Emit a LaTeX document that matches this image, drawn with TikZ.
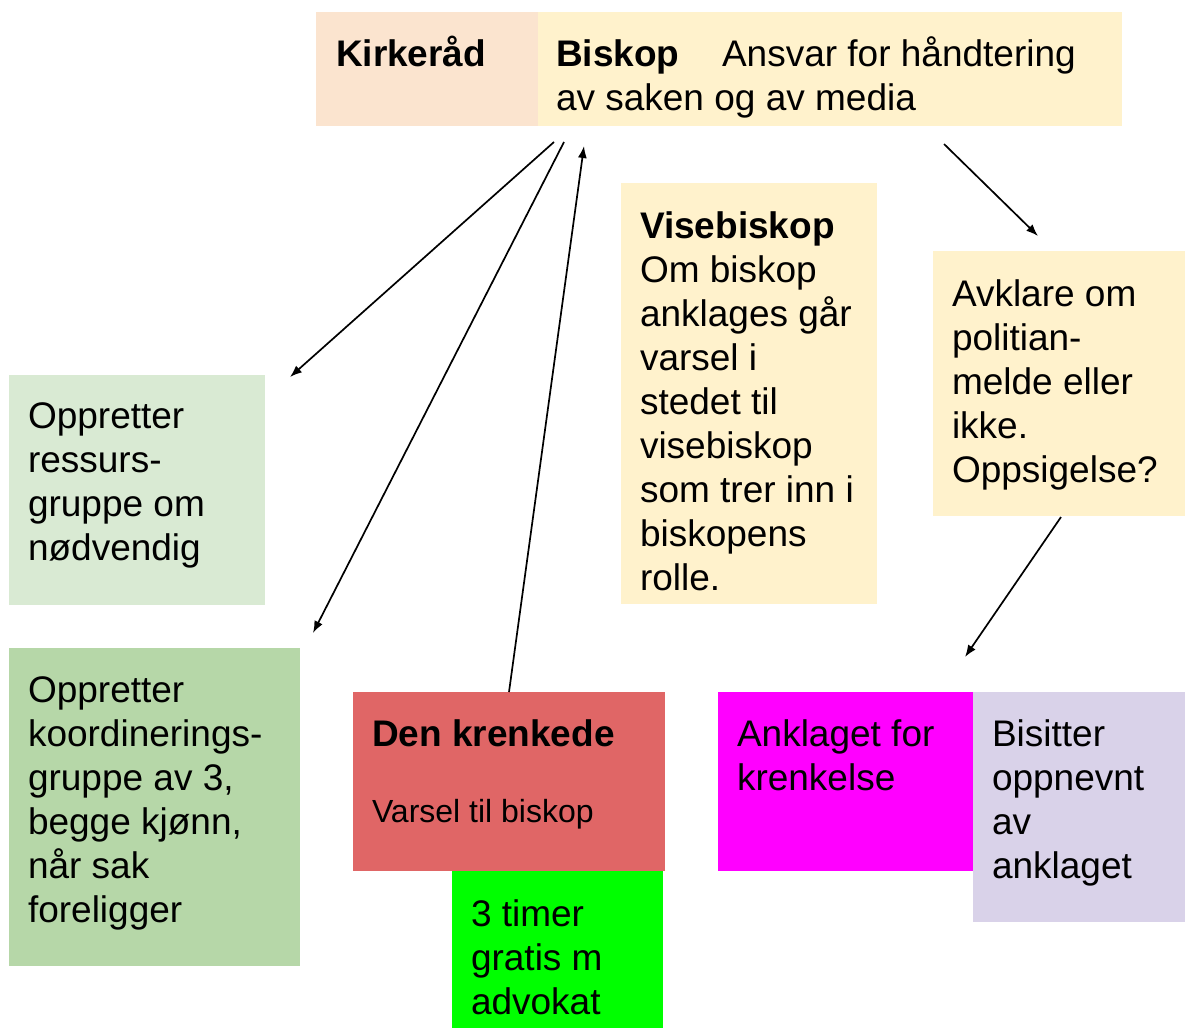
\documentclass[tikz,border=0pt]{standalone}
\usepackage{fontspec}
\setmainfont{Liberation Sans}
\usetikzlibrary{arrows.meta}
\definecolor{peach}{HTML}{FBE4CF}
\definecolor{lightyellow}{HTML}{FFF2CC}
\definecolor{lightgreen}{HTML}{D9EAD3}
\definecolor{midgreen}{HTML}{B6D7A8}
\definecolor{lightred}{HTML}{E06666}
\definecolor{brightgreen}{HTML}{00FF00}
\definecolor{brightmagenta}{HTML}{FF00FF}
\definecolor{lavender}{HTML}{D9D2E9}
\begin{document}
\begin{tikzpicture}[x=1pt,y=-1pt,
  box/.style={anchor=north west, inner sep=0pt, outer sep=0pt, draw=none},
  txt/.style={anchor=north west, inner sep=0pt, outer sep=0pt, align=left, font=\fontsize{37}{44}\selectfont},
  smalltxt/.style={anchor=north west, inner sep=0pt, outer sep=0pt, align=left, font=\fontsize{32}{38}\selectfont},
  conn/.style={line width=1.7pt, -{Latex[length=12pt,width=9pt]}}]
\useasboundingbox (0,0) rectangle (1185,1029);
% boxes
\node[box, fill=peach, minimum width=222pt, minimum height=114pt] (kirke) at (316,12) {};
\node[box, fill=lightyellow, minimum width=584pt, minimum height=114pt] (biskop) at (538,12) {};
\node[box, fill=lightyellow, minimum width=256pt, minimum height=421pt] (vise) at (621,183) {};
\node[box, fill=lightyellow, minimum width=252pt, minimum height=265pt] (avklare) at (933,251) {};
\node[box, fill=lightgreen, minimum width=256pt, minimum height=230pt] (ressurs) at (9,375) {};
\node[box, fill=midgreen, minimum width=291pt, minimum height=318pt] (koord) at (9,648) {};
\node[box, fill=lightred, minimum width=312pt, minimum height=179pt] (krenkede) at (353,692) {};
\node[box, fill=brightgreen, minimum width=211pt, minimum height=157pt] (timer) at (452,871) {};
\node[box, fill=brightmagenta, minimum width=255pt, minimum height=179pt] (anklaget) at (718,692) {};
\node[box, fill=lavender, minimum width=212pt, minimum height=230pt] (bisitter) at (973,692) {};
% texts
\node[txt] (kirketxt) at (336,35.2) {\strut\bfseries Kirkeråd};
\node[txt] (biskoptxt) at (556,35.2) {\strut\makebox[166pt][l]{\bfseries Biskop}Ansvar for håndtering\\av saken og av media};
\node[txt] (visetxt) at (640,207.2) {\strut\textbf{Visebiskop}\\Om biskop\\anklages går\\varsel i\\stedet til\\visebiskop\\som trer inn i\\biskopens\\rolle.};
\node[txt] (avklaretxt) at (952,275.2) {\strut Avklare om\\politian-\\melde eller\\ikke.\\Oppsigelse?};
\node[txt] (ressurstxt) at (28,397.2) {\strut Oppretter\\ressurs-\\gruppe om\\nødvendig};
\node[txt] (koordtxt) at (28,671.2) {\strut Oppretter\\koordinerings-\\gruppe av 3,\\begge kjønn,\\når sak\\foreligger};
\node[txt] (krenkedetxt) at (372,715.2) {\strut\bfseries Den krenkede};
\node[smalltxt] (varseltxt) at (372,795.4) {\strut Varsel til biskop};
\node[txt] (timertxt) at (471,895.2) {\strut 3 timer\\gratis m\\advokat};
\node[txt] (anklagettxt) at (737,715.2) {\strut Anklaget for\\krenkelse};
\node[txt] (bisittertxt) at (992,715.2) {\strut Bisitter\\oppnevnt\\av\\anklaget};
% connector end points
\coordinate (a1s) at (554,142);
\coordinate (a1e) at (290,377);
\coordinate (a2s) at (564,142);
\coordinate (a2e) at (313,633);
\coordinate (a3s) at (509,692);
\coordinate (a3e) at (584,146);
\coordinate (a4s) at (944,144);
\coordinate (a4e) at (1038,236);
\coordinate (a5s) at (1061,517);
\coordinate (a5e) at (965,657);
\draw[conn] (a1s) -- (a1e);
\draw[conn] (a2s) -- (a2e);
\draw[conn] (a3s) -- (a3e);
\draw[conn] (a4s) -- (a4e);
\draw[conn] (a5s) -- (a5e);
\end{tikzpicture}
\end{document}
